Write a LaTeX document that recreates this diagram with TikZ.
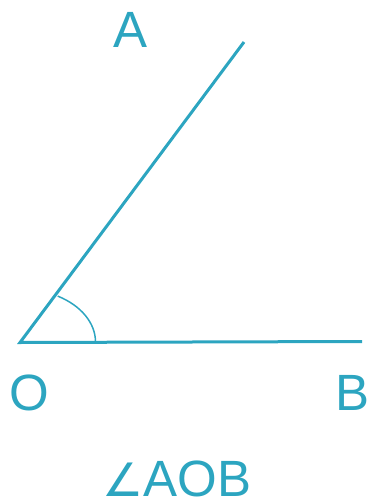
\documentclass[tikz,border=0pt]{standalone}
\usepackage{fontspec}
\setmainfont{Liberation Sans}
\newfontfamily\symfont{DejaVu Sans}
\usepackage{tikz}
\usetikzlibrary{calc}
\definecolor{myteal}{RGB}{44, 165, 192}

\begin{document}
\begin{tikzpicture}[x=1pt, y=-1pt]
  \useasboundingbox (0,0) rectangle (370,503);
  \tikzset{lbl/.style={text=myteal, font=\fontsize{51}{51}\selectfont, inner sep=0pt}}

  % Coordinates
  \coordinate (O) at (20, 342.5);
  \coordinate (A) at (244, 42);
  \coordinate (B) at (362, 341.5);

  % Rays
  \draw[myteal, line width=3pt] (A) -- (O) -- (B);

  % Angle mark
  \draw[myteal, line width=1.5pt] (95.5, 342) arc[start angle=0, end angle=-60, x radius=75.5, y radius=53];

  % Labels
  \node[lbl] (lA) at (131, 30) {A};
  \node[lbl] (lO) at (29, 393) {O};
  \node[lbl] (lB) at (353, 393) {B};
  \node[lbl] (lAOB) at (177, 479) {{\symfont\fontsize{46}{46}\selectfont ∠}AOB};
\end{tikzpicture}
\end{document}
